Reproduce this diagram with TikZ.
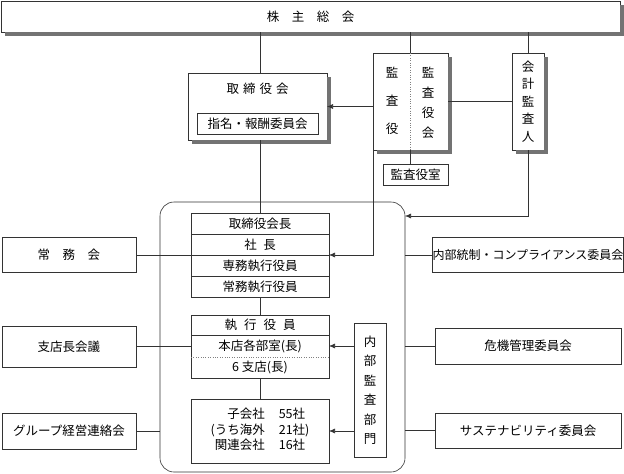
\documentclass[tikz,border=0pt]{standalone}
\usepackage{fontspec}
\setmainfont{Noto Sans CJK JP}
\usetikzlibrary{positioning,arrows.meta}
\tikzset{%
    every node/.style={%
        font=\fontsize{12.5}{15}\selectfont
    },
    box/.style={%
        draw=black!80, fill=white, line width=0.6pt, inner sep=0pt, outer sep=0pt
    },
    shadowfill/.style={%
        fill=black!55, draw=none
    },
    row/.style={%
        box, minimum width=138pt, minimum height=21pt
    },
    rowtext/.style={%
        inner sep=0pt, outer sep=0pt, minimum width=138pt, minimum height=21pt
    },
    side/.style={%
        box, minimum width=134pt
    },
    cmte/.style={%
        box, minimum width=186pt
    },
    line/.style={%
        draw=black!80, line width=0.6pt
    },
    link/.style={%
        line, -{Latex[length=6pt,width=5pt]}
    }
}

\begin{document}
\begin{tikzpicture}[x=1pt, y=-1pt]
    \useasboundingbox (0,0) rectangle (624,474);

    % shareholders and board
    \node[box, minimum width=619pt, minimum height=31pt] (soukai) at (310.5,16.5) {株　主　総　会};
    \node[box, minimum width=139pt, minimum height=67pt,
        label={[anchor=north, inner sep=0pt, yshift=-10pt]north:取\hspace{4pt}締\hspace{4pt}役\hspace{4pt}会}]
        (torishimari) at (257.5,106.5) {};
    \node[box, minimum width=121pt, minimum height=21pt] (shimei) at (257.5,123.5) {指名・報酬委員会};

    % auditors
    \node[box, minimum width=75pt, minimum height=97pt] (kansayaku) at (410.5,101.5) {};
    \draw[dotted, black!50] (kansayaku.north) -- (kansayaku.south);
    \node[align=center, inner sep=0pt] (kansayakuText) at (392,101) {監\\[13pt]査\\[13pt]役};
    \node[align=center, inner sep=0pt] (kansakaiText) at (428,103) {監\\[5pt]査\\[5pt]役\\[5pt]会};
    \node[box, minimum width=32pt, minimum height=97pt, align=center] (kaikei) at (528,101.5)
        {会\\[2.5pt]計\\[2.5pt]監\\[2.5pt]査\\[2.5pt]人};
    \node[box, minimum width=65pt, minimum height=21pt] (kansashitsu) at (415.5,174.5) {監査役室};

    % shadows
    \foreach \n in {soukai,torishimari,kansayaku,kaikei} {
        \path[shadowfill] ([xshift=0.4pt,yshift=-3.5pt]\n.north east) rectangle ([xshift=3.5pt,yshift=-3.5pt]\n.south east);
        \path[shadowfill] ([xshift=3.5pt,yshift=-0.4pt]\n.south west) rectangle ([xshift=3.5pt,yshift=-3.5pt]\n.south east);
    }

    % executive group
    \node[line, rounded corners=14pt, minimum width=245pt, minimum height=270pt, inner sep=0pt, outer sep=0pt]
        (execgroup) at (282.5,337) {};
    \node[row] (r1) at (260,223.5) {取締役会長};
    \node[row, below=0pt of r1] (r2) {社\hspace{6.5pt}長};
    \node[row, below=0pt of r2] (r3) {専務執行役員};
    \node[row, below=0pt of r3] (r4) {常務執行役員};

    \node[row, minimum height=20pt] (s1) at (260,325) {執\hspace{7pt}行\hspace{7pt}役\hspace{7pt}員};
    \node[rowtext, minimum height=22pt, below=0pt of s1] (s2) {本店各部室(長)};
    \node[rowtext, below=0pt of s2] (s3) {6 支店(長)};
    \draw[line] (s2.north west) rectangle (s3.south east);
    \draw[dotted, black!50] (s2.south west) -- (s2.south east);

    \node[box, minimum width=138pt, minimum height=64pt] (sub) at (260,431)
        {\begin{tabular}{@{}r@{\hspace{14pt}}l@{}}子会社 & 55社\\(うち海外 & 21社)\\関連会社 & 16社\end{tabular}};
    \node[box, minimum width=32pt, minimum height=134pt, align=center] (audit) at (370,390)
        {内\\[4.5pt]部\\[4.5pt]監\\[4.5pt]査\\[4.5pt]部\\[4.5pt]門};

    % meetings and committees
    \node[side, minimum height=35pt] (jomukai) at (69,255) {常　務　会};
    \node[side, minimum height=41pt] (shitencho) at (69,346.5) {支店長会議};
    \node[side, minimum height=36pt] (groupkai) at (69,431) {グループ経営連絡会};
    \node[cmte, minimum height=35pt, font=\fontsize{12}{15}\selectfont] (naibu) at (528,255) {内部統制・コンプライアンス委員会};
    \node[cmte, minimum height=36pt] (kiki) at (528,346) {危機管理委員会};
    \node[cmte, minimum height=35pt] (sustain) at (528,430.5) {サステナビリティ委員会};

    \coordinate (kaikeiIn) at ([yshift=-14pt]execgroup.north east);

    \draw[line]
        (soukai.south -| r1.north) -- (torishimari.north -| r1.north)
        (torishimari.south -| r1.north) -- (r1.north)
        (soukai.south -| kansayaku.north) -- (kansayaku.north)
        (soukai.south -| kaikei.north) -- (kaikei.north)
        (kansayaku.east) -- (kaikei.west)
        (kansayaku.south) -- (kansayaku.south |- kansashitsu.north)
        (r4.south) -- (s1.north)
        (s3.south) -- (sub.north)
        (jomukai.east) -- (r2.south west)
        (shitencho.east) -- (shitencho.east -| s2.west)
        (groupkai.east) -- (groupkai.east -| execgroup.west)
        (naibu.west) -- (naibu.west -| execgroup.east)
        (kiki.west) -- (kiki.west -| execgroup.east)
        (sustain.west) -- (sustain.west -| execgroup.east)
        ;
    \draw[link] (torishimari.east -| kansayaku.west) -- (torishimari.east);
    \draw[link] (kansayaku.south west) |- (r2.south east);
    \draw[link] (kaikei.south) |- (kaikeiIn);
    \draw[link] (audit.west |- s2.east) -- (s2.east);
    \draw[link] (audit.west |- sub.east) -- (sub.east);
\end{tikzpicture}
\end{document}
